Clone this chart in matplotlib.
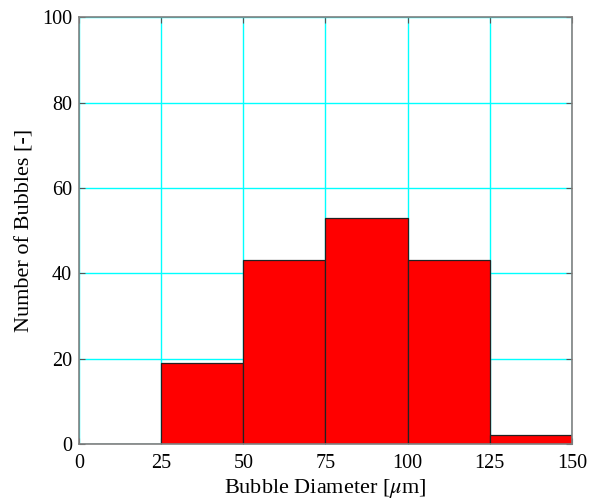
import numpy as np
import matplotlib
matplotlib.use('agg')
from matplotlib import pyplot as plt

plt.rcParams['font.family'] = ['Liberation Serif', 'DejaVu Serif']
plt.rcParams['mathtext.fontset'] = 'stix'

# histogram of bubble diameters (um), 25 um bins
bin_edges = [0, 25, 50, 75, 100, 125, 150]
counts = [0, 19, 43, 53, 43, 2]
x_ticks = [0, 25, 50, 75, 100, 125, 150]
y_ticks = [0, 20, 40, 60, 80, 100]

fig = plt.figure(figsize=(5.89, 5.04), dpi=100)
ax = fig.add_axes([0.134, 0.119, 0.837, 0.847])

ax.set_axisbelow(True)
ax.grid(True, color='#00ffff', linewidth=1.0)

lefts = np.array(bin_edges[:-1])
widths = np.diff(bin_edges)
ax.bar(lefts, counts, width=widths, align='edge', color='#ff0000',
       edgecolor='#222222', linewidth=0.9)

ax.set_xlim(0, 150)
ax.set_ylim(0, 100)
ax.set_xticks(x_ticks)
ax.set_yticks(y_ticks)
ax.tick_params(direction='in', length=4, width=0.8, color='#555555',
               labelsize=14.5, top=True, right=True)
ax.tick_params(axis='x', pad=7)
ax.tick_params(axis='y', pad=5)
for side in ax.spines.values():
    side.set_color('#808080')
    side.set_linewidth(1.2)

ax.set_xlabel(r'Bubble Diameter [$\mu$m]', fontsize=16, labelpad=3)
ax.set_ylabel('Number of Bubbles [-]', fontsize=16, labelpad=5)

fig.savefig('out.png', dpi=100, facecolor='white')
